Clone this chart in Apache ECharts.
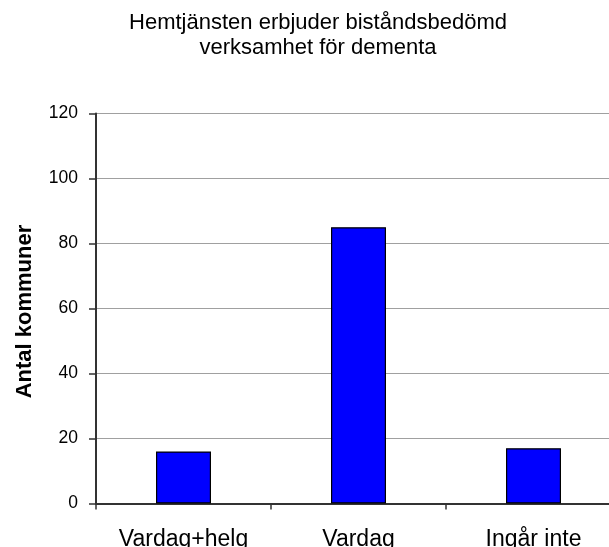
<!DOCTYPE html>
<html>
<head>
<meta charset="utf-8">
<script src="https://cdn.jsdelivr.net/npm/echarts@6/dist/echarts.min.js"></script>
<style>html,body{margin:0;padding:0;background:#fff;overflow:hidden}#c{width:609px;height:547px}</style>
</head>
<body>
<div id="c"></div>
<script>
const titleText = "Hemtjänsten erbjuder biståndsbedömd\nverksamhet för dementa";
const yAxisName = "Antal kommuner";
const categories = ["Vardag+helg", "Vardag", "Ingår inte"];
const values = [16, 85, 17];
const yTicks = [0, 20, 40, 60, 80, 100, 120];

const chart = echarts.init(document.getElementById('c'), null, {renderer: 'canvas'});
chart.setOption({
  animation: false,
  backgroundColor: '#fff',
  title: {
    text: titleText,
    left: 313,
    top: 5,
    textAlign: 'center',
    textStyle: {fontFamily: 'Liberation Sans, Arial', fontSize: 22, fontWeight: 'normal', color: '#000', lineHeight: 25}
  },
  grid: {left: 96, width: 525, top: 113.5, height: 390, containLabel: false, outerBoundsMode: 'none'},
  xAxis: {
    type: 'category',
    data: categories,
    axisLine: {lineStyle: {color: '#333', width: 2}},
    axisTick: {show: true, alignWithLabel: false, length: 6, lineStyle: {color: '#333', width: 1.5}},
    axisLabel: {fontFamily: 'Liberation Sans, Arial', fontSize: 23, color: '#000', margin: 25}
  },
  yAxis: {
    type: 'value',
    min: yTicks[0],
    max: yTicks[yTicks.length - 1],
    interval: 20,
    name: yAxisName,
    nameLocation: 'middle',
    nameRotate: 90,
    nameGap: 60,
    nameTextStyle: {fontFamily: 'Liberation Sans, Arial', fontSize: 22, fontWeight: 'bold', color: '#000', padding: [0, 6, 0, 0]},
    axisLine: {show: true, lineStyle: {color: '#333', width: 2}},
    axisTick: {show: true, length: 7, lineStyle: {color: '#333', width: 1.5}},
    axisLabel: {fontFamily: 'Liberation Sans, Arial', fontSize: 17.5, color: '#000', margin: 18},
    splitLine: {show: true, lineStyle: {color: '#a0a0a0', width: 1.2}}
  },
  series: [{
    type: 'bar',
    data: values,
    barWidth: 55,
    itemStyle: {color: '#0000ff', borderColor: '#000', borderWidth: 1.2}
  }]
});
</script>
</body>
</html>
